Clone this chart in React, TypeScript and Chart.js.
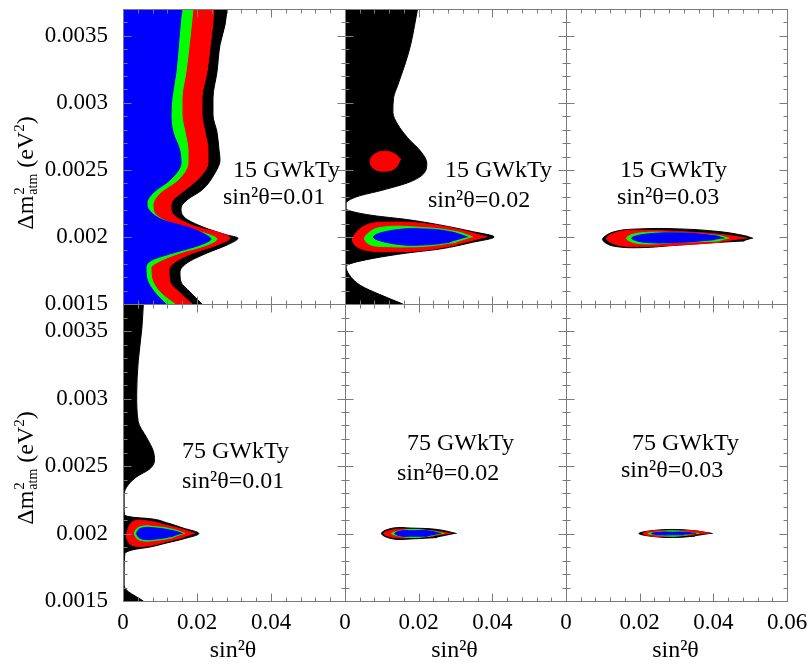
import React, { useEffect, useRef } from 'react';
import { Chart, registerables } from 'chart.js';

Chart.register(...registerables);

// ---------- axis ranges & labels ----------
const X_MIN = 0;
const X_MAX = 0.06;
const Y_MIN = 0.0015;
const Y_MAX = 0.0037;
const X_STEP = 0.02;
const Y_STEP = 0.0005;
const EXPOSURES = ['15 GWkTy', '75 GWkTy'];
const TRUE_S2 = ['sin²θ=0.01', 'sin²θ=0.02', 'sin²θ=0.03'];
const X_TITLE = 'sin²θ';

// ---------- contour data: [sin²θ, Δm²] ----------
// top-left (15 GWkTy, sin²θ=0.01): regions open to the left edge
const TL_BLUE = [
  [0.01162, 0.0015], [0.00919, 0.001567], [0.00676, 0.001664], [0.00622, 0.001768],
  [0.00784, 0.001828], [0.01351, 0.00188], [0.02081, 0.00194], [0.02378, 0.001985],
  [0.02243, 0.002015], [0.01811, 0.002067], [0.01081, 0.002126], [0.00703, 0.002201],
  [0.00649, 0.002253], [0.00838, 0.002335], [0.0127, 0.002425], [0.01568, 0.002552],
  [0.0153, 0.002649], [0.01351, 0.002783], [0.01297, 0.00291], [0.01324, 0.003036],
  [0.01432, 0.00323], [0.01514, 0.003484], [0.01586, 0.0037],
];
const TL_GREEN = [
  [0.01405, 0.0015], [0.01081, 0.001567], [0.00811, 0.001664], [0.00757, 0.001768],
  [0.00946, 0.001813], [0.0154, 0.00188], [0.0227, 0.00194], [0.0254, 0.001985],
  [0.02351, 0.002015], [0.01919, 0.002052], [0.01216, 0.002112], [0.00838, 0.002186],
  [0.00811, 0.002238], [0.01, 0.002328], [0.01486, 0.002425], [0.01757, 0.002552],
  [0.01757, 0.002649], [0.01676, 0.002783], [0.01595, 0.00291], [0.01595, 0.003036],
  [0.01703, 0.00323], [0.01811, 0.003484], [0.01892, 0.0037],
];
const TL_RED = [
  [0.01865, 0.0015], [0.0154, 0.001582], [0.0127, 0.001664], [0.01243, 0.001754],
  [0.01405, 0.001813], [0.01892, 0.00188], [0.0254, 0.00194], [0.02892, 0.001992],
  [0.02622, 0.00203], [0.02, 0.002074], [0.01432, 0.002149], [0.01297, 0.002216],
  [0.01351, 0.002276], [0.01676, 0.00235], [0.02081, 0.002447], [0.02297, 0.002552],
  [0.02297, 0.002649], [0.02216, 0.002783], [0.02135, 0.00291], [0.02135, 0.003036],
  [0.0227, 0.00323], [0.02351, 0.003409], [0.02424, 0.003581], [0.02459, 0.0037],
];
const TL_BLACK = [
  [0.02135, 0.0015], [0.01811, 0.00159], [0.01568, 0.001664], [0.0154, 0.001739],
  [0.0173, 0.001806], [0.0227, 0.00188], [0.02811, 0.00194], [0.03108, 0.001992],
  [0.02811, 0.002015], [0.02162, 0.002074], [0.01649, 0.002149], [0.01568, 0.002216],
  [0.0173, 0.002276], [0.02135, 0.00235], [0.02486, 0.002477], [0.02622, 0.002574],
  [0.02595, 0.002649], [0.0254, 0.002783], [0.02432, 0.00291], [0.02432, 0.003036],
  [0.0254, 0.00323], [0.02622, 0.003432], [0.02757, 0.003581], [0.02811, 0.0037],
];

// top-middle (15 GWkTy, sin²θ=0.02)
const TM_BLACK = [
  [0.0157, 0.0015], [0.0095, 0.00157], [0.0041, 0.00164], [0.0011, 0.00172],
  [0.0003, 0.00178], [0.0014, 0.0018], [0.0076, 0.00184], [0.0168, 0.00188],
  [0.0257, 0.00191], [0.0346, 0.00196], [0.0405, 0.002], [0.0346, 0.00204],
  [0.0257, 0.00209], [0.0168, 0.00213], [0.0076, 0.00216], [0.0019, 0.00219],
  [0.0003, 0.00221], [0.0003, 0.00225], [0.0032, 0.0023], [0.0103, 0.00235],
  [0.0176, 0.00241], [0.0216, 0.00248], [0.0222, 0.00255], [0.0208, 0.00263],
  [0.017, 0.00274], [0.0143, 0.00284], [0.013, 0.00293], [0.0132, 0.00304],
  [0.0143, 0.00313], [0.0162, 0.00328], [0.0178, 0.00343], [0.0189, 0.00358],
  [0.0197, 0.0037],
];
const TM_RED_ISLAND = [
  [0.0151, 0.00258], [0.0135, 0.00262], [0.0108, 0.00264], [0.0082, 0.00262],
  [0.0068, 0.00257], [0.0078, 0.00251], [0.0105, 0.00249], [0.0135, 0.00251],
  [0.0151, 0.00258],
];
const TM_RED = [
  [0.0387, 0.002], [0.0302, 0.00206], [0.0212, 0.0021], [0.0122, 0.00211],
  [0.0059, 0.00209], [0.0022, 0.002], [0.0027, 0.00194], [0.0059, 0.0019],
  [0.0122, 0.00189], [0.0212, 0.0019], [0.0302, 0.00194],
];
const TM_GREEN = [
  [0.0347, 0.002], [0.0302, 0.00204], [0.0212, 0.00207], [0.0095, 0.00207],
  [0.0054, 0.002], [0.0063, 0.00195], [0.0095, 0.00193], [0.0212, 0.00193],
  [0.0302, 0.00196],
];
const TM_BLUE = [
  [0.0333, 0.002], [0.0284, 0.00204], [0.0212, 0.00206], [0.013, 0.00205],
  [0.0077, 0.002], [0.013, 0.00195], [0.0212, 0.00194], [0.0284, 0.00196],
];

// top-right (15 GWkTy, sin²θ=0.03)
const TR_BLACK = [
  [0.0508, 0.00199], [0.0484, 0.00201], [0.0416, 0.00204], [0.0308, 0.00206],
  [0.02, 0.00206], [0.0132, 0.00204], [0.01, 0.00199], [0.0105, 0.00196],
  [0.0132, 0.00193], [0.02, 0.00192], [0.0308, 0.00194], [0.0416, 0.00196],
  [0.0484, 0.00197],
];
const TR_RED = [
  [0.0492, 0.00199], [0.0416, 0.00202], [0.0308, 0.00204], [0.02, 0.00205],
  [0.0146, 0.00204], [0.011, 0.00199], [0.014, 0.00194], [0.02, 0.00193],
  [0.0308, 0.00194], [0.0416, 0.00196],
];
const TR_GREEN = [
  [0.0443, 0.00199], [0.0416, 0.00201], [0.0308, 0.00203], [0.02, 0.00203],
  [0.0164, 0.00199], [0.02, 0.00195], [0.0308, 0.00196], [0.0416, 0.00197],
];
const TR_BLUE = [
  [0.043, 0.00199], [0.0403, 0.00201], [0.0308, 0.00203], [0.0214, 0.00202],
  [0.0178, 0.00199], [0.0214, 0.00196], [0.0308, 0.00196], [0.0403, 0.00198],
];

// bottom-left (75 GWkTy, sin²θ=0.01)
const BL_BLACK = [
  [0.0055, 0.0015], [0.0037, 0.00153], [0.001, 0.00158], [0.0003, 0.00162],
  [0.0003, 0.00173], [0.0005, 0.00185], [0.0028, 0.00188], [0.0073, 0.0019],
  [0.0118, 0.00193], [0.0163, 0.00196], [0.0205, 0.002], [0.0163, 0.00204],
  [0.0118, 0.00208], [0.0073, 0.00211], [0.0028, 0.00212], [0.0004, 0.00214],
  [0.0003, 0.00219], [0.0003, 0.00229], [0.0014, 0.00236], [0.0037, 0.00242],
  [0.0073, 0.00248], [0.0085, 0.00254], [0.0082, 0.00261], [0.0064, 0.00271],
  [0.0041, 0.00283], [0.0037, 0.00303], [0.0041, 0.00327], [0.0051, 0.00352],
  [0.0055, 0.0037],
];
const BL_RED = [
  [0.0195, 0.002], [0.0163, 0.00203], [0.0118, 0.00206], [0.0073, 0.00209],
  [0.0028, 0.00209], [0.001, 0.002], [0.0012, 0.00195], [0.0028, 0.00191],
  [0.0073, 0.00191], [0.0118, 0.00194], [0.0163, 0.00197],
];
const BL_GREEN = [
  [0.0168, 0.002], [0.0136, 0.00203], [0.0091, 0.00205], [0.0046, 0.00205],
  [0.0031, 0.002], [0.0046, 0.00195], [0.0091, 0.00195], [0.0136, 0.00197],
];
const BL_BLUE = [
  [0.0161, 0.002], [0.0136, 0.00202], [0.0091, 0.00204], [0.005, 0.00204],
  [0.0037, 0.002], [0.005, 0.00196], [0.0091, 0.00196], [0.0136, 0.00198],
];

// bottom-middle (75 GWkTy, sin²θ=0.02)
const BM_BLACK = [
  [0.0303, 0.002], [0.025, 0.00203], [0.018, 0.00204], [0.013, 0.00204],
  [0.0099, 0.002], [0.013, 0.00196], [0.018, 0.00196], [0.025, 0.00197],
];
const BM_RED = [
  [0.0288, 0.002], [0.024, 0.00202], [0.018, 0.00203], [0.0135, 0.00203],
  [0.0105, 0.002], [0.0135, 0.00197], [0.018, 0.00197], [0.024, 0.00198],
];
const BM_GREEN = [
  [0.027, 0.002], [0.023, 0.00202], [0.018, 0.00203], [0.015, 0.00202],
  [0.0126, 0.002], [0.015, 0.00198], [0.018, 0.00197], [0.023, 0.00198],
];
const BM_BLUE = [
  [0.0261, 0.002], [0.0225, 0.00202], [0.018, 0.00202], [0.0155, 0.00202],
  [0.0135, 0.002], [0.0155, 0.00198], [0.018, 0.00198], [0.0225, 0.00198],
];

// bottom-right (75 GWkTy, sin²θ=0.03)
const BR_BLACK = [
  [0.0398, 0.002], [0.035, 0.00202], [0.029, 0.00203], [0.023, 0.00202],
  [0.0198, 0.002], [0.023, 0.00198], [0.029, 0.00197], [0.035, 0.00198],
];
const BR_RED = [
  [0.0389, 0.002], [0.035, 0.00202], [0.029, 0.00202], [0.0235, 0.00202],
  [0.0209, 0.002], [0.0235, 0.00198], [0.029, 0.00198], [0.035, 0.00199],
];
const BR_GREEN = [
  [0.0362, 0.002], [0.033, 0.00201], [0.029, 0.00202], [0.0245, 0.00201],
  [0.0222, 0.002], [0.0245, 0.00199], [0.029, 0.00198], [0.033, 0.00199],
];
const BR_BLUE = [
  [0.0353, 0.002], [0.032, 0.00201], [0.029, 0.00201], [0.0255, 0.00201],
  [0.0232, 0.002], [0.0255, 0.00199], [0.029, 0.00199], [0.032, 0.00199],
];

// ---------- styling / layout ----------
const COLORS: Record<string, string> = {
  blue: '#0000ff',
  green: '#00ff00',
  red: '#ff0000',
  black: '#000000',
};
const AXIS_COLOR = '#7a7a7a';
const FONT = '"Liberation Serif", "DejaVu Serif", serif';
const W_CANVAS = 811;
const H_CANVAS = 665;
const COL_LEFT = [123, 345, 566];
const COL_W = [222, 221, 221];
const ROW_TOP = [9, 304];
const ROW_H = [295, 297];
const X_AXIS_BOX = 40;

type Layer = { pts: number[][]; color: string; kind: 'edge' | 'shape' };
type PanelDef = {
  row: number;
  col: number;
  layers: Layer[];
  text: { l1: [number, number]; l2: [number, number] };
};

// first layer drawn on top
const PANELS: PanelDef[] = [
  {
    row: 0, col: 0,
    layers: [
      { pts: TL_BLUE, color: 'blue', kind: 'edge' },
      { pts: TL_GREEN, color: 'green', kind: 'edge' },
      { pts: TL_RED, color: 'red', kind: 'edge' },
      { pts: TL_BLACK, color: 'black', kind: 'edge' },
    ],
    text: { l1: [110, 168], l2: [100, 195] },
  },
  {
    row: 0, col: 1,
    layers: [
      { pts: TM_BLUE, color: 'blue', kind: 'shape' },
      { pts: TM_GREEN, color: 'green', kind: 'shape' },
      { pts: TM_RED, color: 'red', kind: 'shape' },
      { pts: TM_RED_ISLAND, color: 'red', kind: 'shape' },
      { pts: TM_BLACK, color: 'black', kind: 'edge' },
    ],
    text: { l1: [100, 168], l2: [83, 198] },
  },
  {
    row: 0, col: 2,
    layers: [
      { pts: TR_BLUE, color: 'blue', kind: 'shape' },
      { pts: TR_GREEN, color: 'green', kind: 'shape' },
      { pts: TR_RED, color: 'red', kind: 'shape' },
      { pts: TR_BLACK, color: 'black', kind: 'shape' },
    ],
    text: { l1: [54, 168], l2: [51, 195] },
  },
  {
    row: 1, col: 0,
    layers: [
      { pts: BL_BLUE, color: 'blue', kind: 'shape' },
      { pts: BL_GREEN, color: 'green', kind: 'shape' },
      { pts: BL_RED, color: 'red', kind: 'shape' },
      { pts: BL_BLACK, color: 'black', kind: 'edge' },
    ],
    text: { l1: [59, 154], l2: [59, 184] },
  },
  {
    row: 1, col: 1,
    layers: [
      { pts: BM_BLUE, color: 'blue', kind: 'shape' },
      { pts: BM_GREEN, color: 'green', kind: 'shape' },
      { pts: BM_RED, color: 'red', kind: 'shape' },
      { pts: BM_BLACK, color: 'black', kind: 'shape' },
    ],
    text: { l1: [62, 146], l2: [52, 176] },
  },
  {
    row: 1, col: 2,
    layers: [
      { pts: BR_BLUE, color: 'blue', kind: 'shape' },
      { pts: BR_GREEN, color: 'green', kind: 'shape' },
      { pts: BR_RED, color: 'red', kind: 'shape' },
      { pts: BR_BLACK, color: 'black', kind: 'shape' },
    ],
    text: { l1: [66, 146], l2: [55, 173] },
  },
];

const frameTicksPlugin = {
  id: 'frameTicks',
  afterDraw(chart: any) {
    const { ctx, chartArea: a } = chart;
    const xs = chart.scales.x;
    const ys = chart.scales.y;
    const l = Math.round(a.left) + 0.5;
    const r = Math.round(a.right) + 0.5;
    const t = Math.round(a.top) + 0.5;
    const b = Math.round(a.bottom) + 0.5;
    ctx.save();
    ctx.strokeStyle = AXIS_COLOR;
    ctx.lineWidth = 1;
    ctx.beginPath();
    ctx.rect(l, t, r - l, b - t);
    const xMinor = X_STEP / 5;
    const nx = Math.round((X_MAX - X_MIN) / xMinor);
    for (let i = 0; i <= nx; i++) {
      const px = Math.round(xs.getPixelForValue(X_MIN + i * xMinor)) + 0.5;
      const len = i % 5 === 0 ? 8 : 4;
      ctx.moveTo(px, b);
      ctx.lineTo(px, b - len);
      ctx.moveTo(px, t);
      ctx.lineTo(px, t + len);
    }
    const yMinor = Y_STEP / 5;
    const ny = Math.round((Y_MAX - Y_MIN) / yMinor);
    for (let i = 0; i <= ny; i++) {
      const py = Math.round(ys.getPixelForValue(Y_MIN + i * yMinor)) + 0.5;
      const len = i % 5 === 0 ? 8 : 4;
      ctx.moveTo(l, py);
      ctx.lineTo(l + len, py);
      ctx.moveTo(r, py);
      ctx.lineTo(r - len, py);
    }
    ctx.stroke();
    ctx.restore();
  },
};

function makeTextPlugin(p: PanelDef) {
  return {
    id: 'panelText',
    afterDraw(chart: any) {
      const { ctx, chartArea: a } = chart;
      ctx.save();
      ctx.fillStyle = '#000';
      ctx.textBaseline = 'alphabetic';
      ctx.textAlign = 'left';
      ctx.font = `24px ${FONT}`;
      ctx.fillText(EXPOSURES[p.row], a.left + p.text.l1[0], a.top + p.text.l1[1]);
      ctx.fillText(TRUE_S2[p.col], a.left + p.text.l2[0], a.top + p.text.l2[1]);

      if (p.row === 1) {
        ctx.textAlign = 'center';
        ctx.fillText(X_TITLE, a.left + a.width / 2 - 1, a.bottom + 56);
      }

      if (p.col === 0) {
        const main = `24px ${FONT}`;
        const small = `15px ${FONT}`;
        const sub = `14px ${FONT}`;
        const w = (s: string, f: string) => {
          ctx.font = f;
          return ctx.measureText(s).width;
        };
        const wDm = w('Δm', main);
        const wStack = Math.max(w('2', small), w('atm', sub)) + 1;
        const wEv = w(' (eV', main);
        const w2 = w('2', small);
        const wP = w(')', main);
        const total = wDm + wStack + wEv + w2 + wP;
        ctx.translate(a.left - 90, a.top + 164);
        ctx.rotate(-Math.PI / 2);
        ctx.textAlign = 'left';
        let x = -total / 2;
        ctx.font = main;
        ctx.fillText('Δm', x, 0);
        x += wDm;
        ctx.font = small;
        ctx.fillText('2', x + 1, -9);
        ctx.font = sub;
        ctx.fillText('atm', x + 1, 4);
        x += wStack;
        ctx.font = main;
        ctx.fillText(' (eV', x, 0);
        x += wEv;
        ctx.font = small;
        ctx.fillText('2', x, -9);
        x += w2;
        ctx.font = main;
        ctx.fillText(')', x, 0);
      }
      ctx.restore();
    },
  };
}

function fmt(v: number, digits: number) {
  return String(Number(v.toFixed(digits)));
}

function buildConfig(p: PanelDef): any {
  const L = COL_LEFT[p.col];
  const T = ROW_TOP[p.row];
  const W = COL_W[p.col];
  const H = ROW_H[p.row];
  const showX = p.row === 1;
  const showY = p.col === 0;
  const lastCol = p.col === 2;

  const yBox = showY ? L : 0;
  const xBox = showX ? X_AXIS_BOX : 0;

  const datasets = p.layers.map((layer) => {
    const c = COLORS[layer.color];
    const base: any = {
      data: layer.pts.map(([x, y]) => ({ x, y })),
      borderColor: c,
      backgroundColor: c,
      borderWidth: 1,
      pointRadius: 0,
      pointHoverRadius: 0,
      clip: 0,
    };
    if (layer.kind === 'edge') {
      base.fill = 'origin';
      base.cubicInterpolationMode = 'monotone';
    } else {
      base.fill = 'shape';
      base.tension = 0.4;
    }
    return base;
  });

  const fixFit = (horizontal: boolean, size: number) => (s: any) => {
    if (horizontal) s.height = size;
    else s.width = size;
    s.paddingLeft = 0;
    s.paddingRight = 0;
    s.paddingTop = 0;
    s.paddingBottom = 0;
  };

  return {
    type: 'line',
    data: { datasets },
    options: {
      animation: false,
      responsive: false,
      devicePixelRatio: 1,
      events: [],
      indexAxis: 'y',
      layout: {
        padding: {
          left: L - yBox,
          top: T,
          right: W_CANVAS - L - W,
          bottom: H_CANVAS - T - H - xBox,
        },
      },
      plugins: {
        legend: { display: false },
        tooltip: { enabled: false },
        title: { display: false },
      },
      scales: {
        x: {
          type: 'linear',
          position: 'bottom',
          min: X_MIN,
          max: X_MAX,
          grid: { display: false, drawTicks: false, tickLength: 0 },
          border: { display: false },
          ticks: {
            display: showX,
            stepSize: X_STEP,
            autoSkip: false,
            maxRotation: 0,
            minRotation: 0,
            padding: 8,
            color: '#000',
            font: { family: FONT, size: 23 },
            callback: (v: any) => {
              const n = Number(v);
              if (!lastCol && Math.abs(n - X_MAX) < 1e-9) return '';
              return fmt(n, 4);
            },
          },
          afterFit: fixFit(true, xBox),
        },
        y: {
          type: 'linear',
          position: 'left',
          min: Y_MIN,
          max: Y_MAX,
          grid: { display: false, drawTicks: false, tickLength: 0 },
          border: { display: false },
          ticks: {
            display: showY,
            stepSize: Y_STEP,
            includeBounds: false,
            autoSkip: false,
            padding: 15,
            color: '#000',
            font: { family: FONT, size: 23 },
            callback: (v: any) => fmt(Number(v), 5),
          },
          afterFit: fixFit(false, yBox),
        },
      },
    },
    plugins: [frameTicksPlugin, makeTextPlugin(p)],
  };
}

export default function App() {
  const refs = useRef<(HTMLCanvasElement | null)[]>([]);

  useEffect(() => {
    const charts = PANELS.map((p, i) => new Chart(refs.current[i] as HTMLCanvasElement, buildConfig(p)));
    return () => charts.forEach((c) => c.destroy());
  }, []);

  return (
    <div
      style={{
        position: 'fixed',
        left: 0,
        top: 0,
        width: W_CANVAS,
        height: H_CANVAS,
        background: '#ffffff',
        overflow: 'hidden',
      }}
    >
      {PANELS.map((_, i) => (
        <canvas
          key={i}
          ref={(el) => {
            refs.current[i] = el;
          }}
          width={W_CANVAS}
          height={H_CANVAS}
          style={{ position: 'absolute', left: 0, top: 0, width: W_CANVAS, height: H_CANVAS }}
        />
      ))}
    </div>
  );
}
